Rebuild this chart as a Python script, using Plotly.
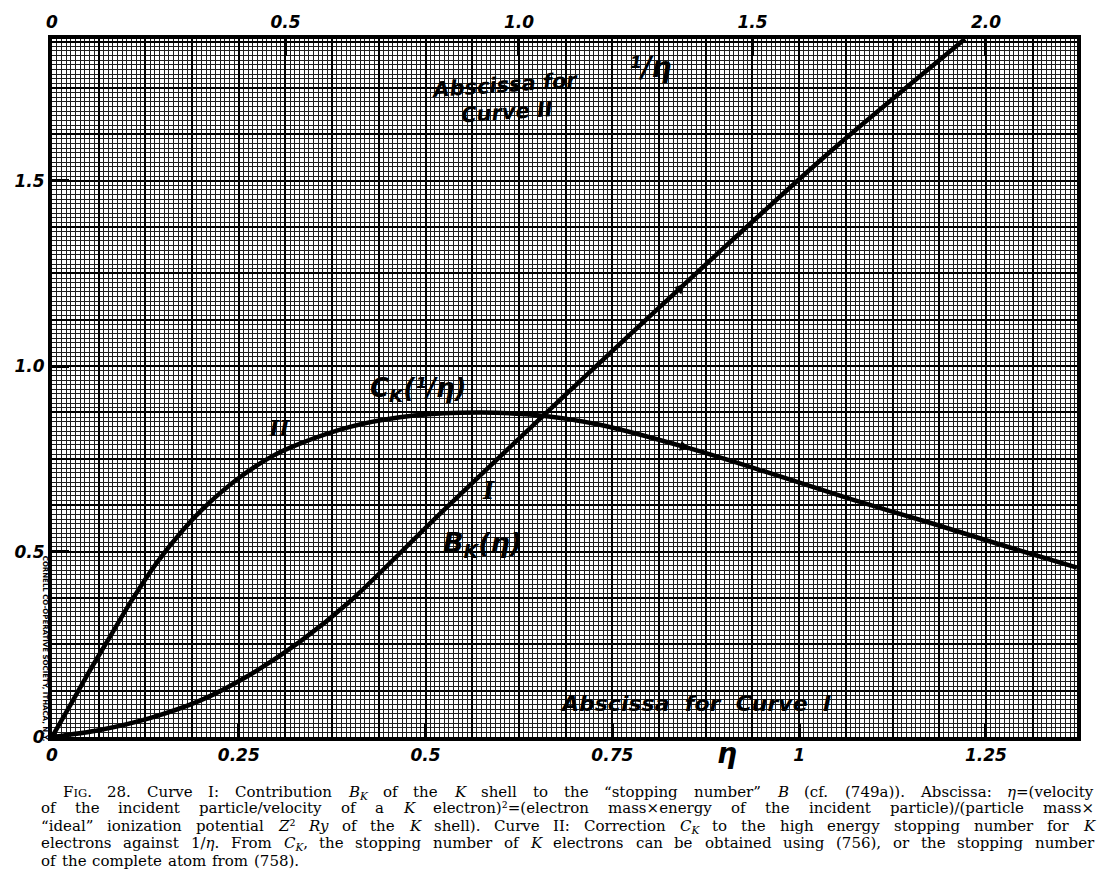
import re
import plotly.graph_objects as go

# ---------------- data ----------------
# Curve I : B_K(eta) against eta (lower abscissa)
eta_I = [0, 0.064, 0.131, 0.198, 0.265, 0.332, 0.399, 0.522, 0.680, 0.847, 1.037, 1.222]
B_K = [0, 0.019, 0.051, 0.098, 0.168, 0.257, 0.366, 0.607, 0.909, 1.222, 1.570, 1.882]

# Curve II : C_K(1/eta) against 1/eta (upper abscissa)
inv_eta_II = [0, 0.045, 0.081, 0.118, 0.167, 0.225, 0.281, 0.332, 0.403, 0.473, 0.531, 0.638,
              0.745, 0.874, 1.030, 1.173, 1.366, 1.531, 1.709, 1.887, 2.030, 2.195]
C_K = [0, 0.099, 0.179, 0.257, 0.361, 0.471, 0.559, 0.626, 0.701, 0.758, 0.791, 0.836,
       0.862, 0.874, 0.869, 0.842, 0.778, 0.714, 0.642, 0.575, 0.519, 0.457]

eta_ticks = [0, 0.25, 0.5, 0.75, 1, 1.25]
eta_ticktext = ["0", "0.25", "0.5", "0.75", "1", "1.25"]
inv_ticks = [0, 0.5, 1.0, 1.5, 2.0]
inv_ticktext = ["0", "0.5", "1.0", "1.5", "2.0"]
y_ticks = [0, 0.5, 1.0, 1.5]
y_ticktext = ["0", "0.5", "1.0", "1.5"]

caption_lines = [
    "F<span style='font-size:11.5px'>IG</span>. 28. Curve I: Contribution <i>B<sub>K</sub></i> of the <i>K</i> shell to the \u201cstopping number\u201d <i>B</i> (cf. (749a)). Abscissa: <i>\u03b7</i>=(velocity",
    "of the incident particle/velocity of a <i>K</i> electron)\u00b2=(electron mass\u00d7energy of the incident particle)/(particle mass\u00d7",
    "\u201cideal\u201d ionization potential <i>Z</i>\u00b2 <i>Ry</i> of the <i>K</i> shell). Curve II: Correction <i>C<sub>K</sub></i> to the high energy stopping number for <i>K</i>",
    "electrons against 1/<i>\u03b7</i>. From <i>C<sub>K</sub></i>, the stopping number of <i>K</i> electrons can be obtained using (756), or the stopping number",
    "of the complete atom from (758).",
]

# ---------------- layout geometry ----------------
W, H = 1117, 883
L, R, T, B = 52, 1077, 33, 737
ETA_MAX = 1.372
INV_MAX = 2.195
Y_MAX = 1.882


def px(x):
    return (x - L) / (R - L)


def py(y):
    return (B - y) / (B - T)


hand = dict(family="DejaVu Sans", color="black", style="italic", weight="bold")
CAP_SIZE = 15
serif = dict(family="DejaVu Serif", color="black", size=CAP_SIZE)

fig = go.Figure()

# invisible trace to carry the graph-paper grid axes
fig.add_trace(go.Scatter(x=[0, INV_MAX], y=[0, Y_MAX], xaxis="x3", yaxis="y2",
                         mode="markers", marker=dict(opacity=0), hoverinfo="skip",
                         showlegend=False))

fig.add_trace(go.Scatter(x=eta_I, y=B_K, xaxis="x", yaxis="y", mode="lines",
                         line=dict(color="black", width=4.5, shape="spline", smoothing=0.8),
                         showlegend=False, name="B_K(eta)"))
fig.add_trace(go.Scatter(x=inv_eta_II, y=C_K, xaxis="x2", yaxis="y", mode="lines",
                         line=dict(color="black", width=4.5, shape="spline", smoothing=0.8),
                         showlegend=False, name="C_K(1/eta)"))

axis_common = dict(showline=True, linecolor="black", linewidth=4, zeroline=False,
                   showgrid=False, ticks="inside", tickcolor="black", tickwidth=2.5)
TICKSIZE = 17

fig.update_layout(
    width=W, height=H,
    margin=dict(l=L, r=W - R, t=T, b=H - B),
    paper_bgcolor="white", plot_bgcolor="white",
    xaxis=dict(range=[0, ETA_MAX], tickvals=eta_ticks, ticktext=eta_ticktext,
               side="bottom", ticklen=13, tickfont=dict(size=TICKSIZE, **hand), **axis_common),
    xaxis2=dict(range=[0, INV_MAX], tickvals=inv_ticks, ticktext=inv_ticktext,
                overlaying="x", side="top", anchor="y", ticklen=17,
                tickfont=dict(size=TICKSIZE, **hand), **axis_common),
    yaxis=dict(range=[0, Y_MAX], tickvals=y_ticks, ticktext=y_ticktext,
               mirror=True, ticklen=17, tickfont=dict(size=TICKSIZE, **hand), **axis_common),
    xaxis3=dict(range=[0, INV_MAX], overlaying="x", anchor="y2", showticklabels=False,
                ticks="", showline=False, zeroline=False,
                showgrid=True, dtick=0.1, tick0=0, gridcolor="black", gridwidth=1.5,
                minor=dict(dtick=0.01, tick0=0, showgrid=True, gridcolor="#1e1e1e",
                           gridwidth=1.0, ticks="")),
    yaxis2=dict(range=[0, Y_MAX], overlaying="y", anchor="x3", showticklabels=False,
                ticks="", showline=False, zeroline=False,
                showgrid=True, dtick=0.125, tick0=0, gridcolor="black", gridwidth=1.5,
                minor=dict(dtick=0.0125, tick0=0, showgrid=True, gridcolor="#1e1e1e",
                           gridwidth=1.0, ticks="")),
)

ann = []


def label(text, x, y, size, angle=0, font=None, xanchor="center"):
    f = dict(hand) if font is None else dict(font)
    f["size"] = size
    ann.append(dict(text=text, x=px(x), y=py(y), xref="paper", yref="paper",
                    showarrow=False, font=f, textangle=angle, xanchor=xanchor,
                    yanchor="middle"))


label("\u00b9/\u03b7", 650, 62, 28)
label("Abscissa for<br>Curve II", 505, 93, 21, angle=-4)
label("C<sub>K</sub>(\u00b9/\u03b7)", 418, 387, 26)
label("II", 279, 425, 22, font=dict(family="DejaVu Serif", color="black", style="italic", weight="bold"))
label("I", 488, 488, 24, font=dict(family="DejaVu Serif", color="black", style="italic", weight="bold"))
label("B<sub>K</sub>(\u03b7)", 482, 543, 27)
label("Abscissa  for  Curve  I", 695, 703, 22)
label("\u03b7", 727, 754, 28)
label("CORNELL CO-OPERATIVE SOCIETY, ITHACA, N.Y.", 45, 648, 7, angle=90,
      font=dict(family="DejaVu Sans", color="black", weight="bold"))

# arrowheads on the curves
ann.append(dict(x=eta_I[9], y=B_K[9], xref="x", yref="y", ax=-9, ay=9, text="",
                showarrow=True, arrowhead=2, arrowsize=1, arrowwidth=2, arrowcolor="black"))
ann.append(dict(x=inv_eta_II[16], y=C_K[16], xref="x2", yref="y", ax=-11, ay=-3, text="",
                showarrow=True, arrowhead=2, arrowsize=1, arrowwidth=2, arrowcolor="black"))

# ---------------- caption, justified word by word ----------------
# approximate DejaVu Serif advance widths (em)
CW = {' ': .318, 'a': .596, 'b': .640, 'c': .560, 'd': .640, 'e': .592, 'f': .371, 'g': .640,
      'h': .644, 'i': .320, 'j': .313, 'k': .608, 'l': .320, 'm': .948, 'n': .644, 'o': .602,
      'p': .640, 'q': .640, 'r': .478, 's': .513, 't': .402, 'u': .644, 'v': .565, 'w': .855,
      'x': .564, 'y': .565, 'z': .527, 'B': .727, 'C': .734, 'F': .672, 'G': .775, 'I': .402,
      'K': .760, 'R': .772, 'Z': .690, 'A': .722, '.': .318, ',': .318, ':': .337, '(': .390,
      ')': .390, '/': .337, '=': .838, '\u00d7': .838, '\u201c': .518, '\u201d': .518,
      '\u03b7': .640, '\u00b2': .400}


def est_width(word):
    w = 0.0
    scale = [1.0]
    for tok in re.findall(r"<[^>]*>|.", word):
        if tok.startswith("<"):
            if tok.startswith("<sub"):
                scale.append(scale[-1] * 0.7)
            elif tok.startswith("<span"):
                m = re.search(r"font-size:([\d.]+)px", tok)
                scale.append(float(m.group(1)) / CAP_SIZE if m else scale[-1])
            elif tok in ("</sub>", "</span>"):
                scale.pop()
            continue
        w += CW.get(tok, .636 if tok.isdigit() else .6) * scale[-1]
    return w * CAP_SIZE


cap_top = [782, 799, 817, 834, 852]
cap_x0 = [62, 40, 40, 40, 40]
CAP_X1 = 1093
for i, (line, top, x0) in enumerate(zip(caption_lines, cap_top, cap_x0)):
    words = re.findall(r"(?:<[^>]*>|[^\s<])+", line)
    widths = [est_width(w) for w in words]
    if i < len(caption_lines) - 1:
        gap = (CAP_X1 - x0 - sum(widths)) / (len(words) - 1)
    else:
        gap = CW[' '] * CAP_SIZE * 1.25
    x = x0
    for w, wd in zip(words, widths):
        ann.append(dict(text=w, x=(x - L) / (R - L), y=py(top), xref="paper", yref="paper",
                        showarrow=False, font=serif, xanchor="left", yanchor="top",
                        borderpad=0))
        x += wd + gap

fig.update_layout(annotations=ann)

fig.write_html("out.html")
